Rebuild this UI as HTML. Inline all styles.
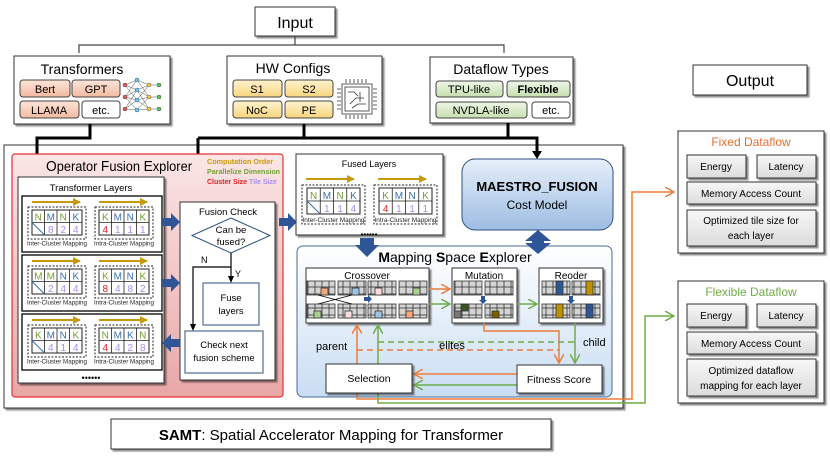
<!DOCTYPE html>
<html><head><meta charset="utf-8"><style>
html,body{margin:0;padding:0;background:#fff}
svg{display:block;font-family:"Liberation Sans",sans-serif}
</style></head><body>
<svg width="830" height="456" viewBox="0 0 830 456" xmlns="http://www.w3.org/2000/svg">
<defs>
<linearGradient id="red" x1="0" y1="0" x2="0" y2="1"><stop offset="0" stop-color="#fbe6e6"/><stop offset="1" stop-color="#e9a7a7"/></linearGradient>
<linearGradient id="blu" x1="0" y1="0" x2="0" y2="1"><stop offset="0" stop-color="#ffffff"/><stop offset="1" stop-color="#c9ddf3"/></linearGradient>
<linearGradient id="mae" x1="0" y1="0" x2="0" y2="1"><stop offset="0" stop-color="#e6eff9"/><stop offset="1" stop-color="#9dbde3"/></linearGradient>
<linearGradient id="gry" x1="0" y1="0" x2="0" y2="1"><stop offset="0" stop-color="#f7f7f7"/><stop offset="1" stop-color="#dcdcdc"/></linearGradient>
<linearGradient id="org" x1="0" y1="0" x2="0" y2="1"><stop offset="0" stop-color="#fce4d8"/><stop offset="1" stop-color="#f3b9a0"/></linearGradient>
<linearGradient id="yel" x1="0" y1="0" x2="0" y2="1"><stop offset="0" stop-color="#fff3cf"/><stop offset="1" stop-color="#f7d57e"/></linearGradient>
<linearGradient id="grn" x1="0" y1="0" x2="0" y2="1"><stop offset="0" stop-color="#eef6e6"/><stop offset="1" stop-color="#c5e0b0"/></linearGradient>
<pattern id="cell" width="7" height="7" patternUnits="userSpaceOnUse"><rect x="0" y="0" width="7" height="7" fill="#d4d4d4" stroke="#333" stroke-width="0.8"/></pattern>
<marker id="ag" markerWidth="8" markerHeight="8" refX="7" refY="4" orient="auto" markerUnits="userSpaceOnUse"><path d="M0,0 L8,4 L0,8 z" fill="#c69a0a"/></marker>
<marker id="ao" markerWidth="10" markerHeight="10" refX="9" refY="5" orient="auto" markerUnits="userSpaceOnUse"><path d="M0,0 L9,5 L0,10" fill="none" stroke="#ee7d3a" stroke-width="1.5"/></marker>
<marker id="agr" markerWidth="10" markerHeight="10" refX="9" refY="5" orient="auto" markerUnits="userSpaceOnUse"><path d="M0,0 L9,5 L0,10" fill="none" stroke="#70ad47" stroke-width="1.5"/></marker>
<filter id="sh" x="-5%" y="-5%" width="115%" height="120%"><feDropShadow dx="2" dy="2" stdDeviation="0.8" flood-color="#000" flood-opacity="0.45"/></filter>
</defs>

<rect x="255" y="7" width="80" height="29" fill="#fff" stroke="#333" filter="url(#sh)"/>
<text x="295" y="28" font-size="16" text-anchor="middle">Input</text>
<path d="M79,53 V45 H504 V53 M295,36 V45" fill="none" stroke="#444" stroke-width="1.2"/>

<rect x="14" y="56" width="156" height="68" fill="#fff" stroke="#333" filter="url(#sh)"/>
<text x="82" y="74" font-size="14" text-anchor="middle">Transformers</text>
<rect x="20" y="80" width="50" height="17" rx="3" fill="url(#org)" stroke="#444"/><text x="45" y="93" font-size="11" text-anchor="middle">Bert</text>
<rect x="72" y="80" width="48" height="17" rx="3" fill="url(#org)" stroke="#444"/><text x="96" y="93" font-size="11" text-anchor="middle">GPT</text>
<rect x="20" y="101" width="59" height="17" rx="3" fill="url(#org)" stroke="#444"/><text x="49" y="114" font-size="11" text-anchor="middle">LLAMA</text>
<rect x="82" y="101" width="38" height="17" rx="3" fill="#fff" stroke="#444"/><text x="101" y="114" font-size="11" text-anchor="middle">etc.</text>
<g stroke="#555" stroke-width="0.5" fill="none">
<path d="M125,85 L137,80 M125,85 L137,90 M125,85 L137,100 M125,97 L137,80 M125,97 L137,90 M125,97 L137,100 M125,97 L137,110 M125,109 L137,90 M125,109 L137,100 M125,109 L137,110 M137,80 L149,85 M137,80 L149,97 M137,90 L149,85 M137,90 L149,97 M137,90 L149,109 M137,100 L149,85 M137,100 L149,97 M137,100 L149,109 M137,110 L149,97 M137,110 L149,109 M149,85 H158 M149,97 H158 M149,109 H158"/>
</g>
<g stroke="#333" stroke-width="0.4">
<circle cx="125" cy="85" r="2" fill="#e55"/><circle cx="125" cy="97" r="2" fill="#e55"/><circle cx="125" cy="109" r="2" fill="#e55"/>
<circle cx="137" cy="80" r="2" fill="#6cf"/><circle cx="137" cy="90" r="2" fill="#6cf"/><circle cx="137" cy="100" r="2" fill="#6cf"/><circle cx="137" cy="110" r="2" fill="#6cf"/>
<circle cx="149" cy="85" r="2" fill="#fc4"/><circle cx="149" cy="97" r="2" fill="#fc4"/><circle cx="149" cy="109" r="2" fill="#fc4"/>
<circle cx="159" cy="85" r="2" fill="#5c5"/><circle cx="159" cy="97" r="2" fill="#5c5"/><circle cx="159" cy="109" r="2" fill="#5c5"/>
</g>

<rect x="227" y="56" width="155" height="68" fill="#fff" stroke="#333" filter="url(#sh)"/>
<text x="293" y="73" font-size="14" text-anchor="middle">HW Configs</text>
<rect x="233" y="80" width="49" height="17" rx="3" fill="url(#yel)" stroke="#444"/><text x="257" y="93" font-size="11" text-anchor="middle">S1</text>
<rect x="285" y="80" width="48" height="17" rx="3" fill="url(#yel)" stroke="#444"/><text x="309" y="93" font-size="11" text-anchor="middle">S2</text>
<rect x="233" y="101" width="49" height="17" rx="3" fill="url(#yel)" stroke="#444"/><text x="257" y="114" font-size="11" text-anchor="middle">NoC</text>
<rect x="285" y="101" width="48" height="17" rx="3" fill="url(#yel)" stroke="#444"/><text x="309" y="114" font-size="11" text-anchor="middle">PE</text>
<g fill="none" stroke="#333" stroke-width="0.8">
<rect x="342" y="84" width="30" height="30"/>
<rect x="345" y="87" width="24" height="24"/>
<path d="M346,83 V79 M350,83 V79 M354,83 V79 M358,83 V79 M362,83 V79 M366,83 V79 M346,115 V119 M350,115 V119 M354,115 V119 M358,115 V119 M362,115 V119 M366,115 V119 M341,89 H337 M341,93 H337 M341,97 H337 M341,101 H337 M341,105 H337 M341,109 H337 M373,89 H377 M373,93 H377 M373,97 H377 M373,101 H377 M373,105 H377 M373,109 H377"/>
<path d="M348,92 H354 L358,96 M350,104 L356,98 H364 M360,92 V102 M352,108 L358,104 H366"/>
</g>

<rect x="430" y="57" width="143" height="66" fill="#fff" stroke="#333" filter="url(#sh)"/>
<text x="501" y="74" font-size="14" text-anchor="middle">Dataflow Types</text>
<rect x="436" y="81" width="67" height="16" rx="3" fill="url(#grn)" stroke="#444"/><text x="469" y="93" font-size="11" text-anchor="middle">TPU-like</text>
<rect x="507" y="81" width="63" height="16" rx="3" fill="url(#grn)" stroke="#444"/><text x="538" y="93" font-size="11" font-weight="bold" text-anchor="middle">Flexible</text>
<rect x="436" y="102" width="91" height="16" rx="3" fill="url(#grn)" stroke="#444"/><text x="481" y="114" font-size="11" text-anchor="middle">NVDLA-like</text>
<rect x="532" y="102" width="38" height="16" rx="3" fill="#fff" stroke="#444"/><text x="551" y="114" font-size="11" text-anchor="middle">etc.</text>

<rect x="693" y="65" width="114" height="30" fill="#fff" stroke="#333" filter="url(#sh)"/>
<text x="750" y="86" font-size="16" text-anchor="middle">Output</text>

<rect x="4" y="145" width="619" height="263" fill="#fff" stroke="#333" filter="url(#sh)"/>

<g fill="none" stroke="#000" stroke-width="3">
<path d="M90,124 V138 H37 V170"/>
<path d="M304,124 V138 M508,123 V138 M198,138 H537 V152 M198,138 V195"/>
</g>
<path d="M32,168 L42,168 L37,177 z M193,193 L203,193 L198,202 z M532,151 L542,151 L537,159 z" fill="#000"/>

<rect x="12" y="154" width="271" height="243" rx="3" fill="url(#red)" stroke="#e03535" stroke-width="1.2"/>
<text x="46" y="171" font-size="14" textLength="146" lengthAdjust="spacingAndGlyphs"><tspan font-size="15">O</tspan>perator <tspan font-size="15">F</tspan>usion <tspan font-size="15">E</tspan>xplorer</text>
<g font-size="7" font-weight="bold">
<text x="207" y="164" fill="#c69a0a" textLength="66" lengthAdjust="spacingAndGlyphs">Computation Order</text>
<text x="207" y="174" fill="#70a030" textLength="73" lengthAdjust="spacingAndGlyphs">Parallelize Dimension</text>
<text x="207" y="184" fill="#e02020">Cluster Size <tspan fill="#a98cf5">Tile Size</tspan></text>
</g>

<rect x="18" y="177" width="146" height="206" fill="#fff" stroke="#333" filter="url(#sh)"/>
<text x="91" y="191" font-size="9.5" text-anchor="middle">Transformer Layers</text>
<rect x="22" y="196" width="140" height="56" fill="#fff" stroke="#000" stroke-width="1.3"/>
<rect x="22" y="255" width="140" height="56" fill="#fff" stroke="#000" stroke-width="1.3"/>
<rect x="22" y="314" width="140" height="56" fill="#fff" stroke="#000" stroke-width="1.3"/>
<text x="91" y="381" font-size="9" text-anchor="middle">••••••</text>

<g font-size="10" text-anchor="middle">
<g transform="translate(28,207)">
<path d="M4,-5 H52" stroke="#c69a0a" stroke-width="2" marker-end="url(#ag)"/>
<rect x="0" y="0" width="58" height="32" fill="none" stroke="#222" stroke-dasharray="2,1.5"/>
<rect x="4" y="3" width="50" height="25" fill="#fff" stroke="#222"/>
<path d="M16.5,3 V28 M29,3 V28 M41.5,3 V28 M4,15.5 H54" stroke="#222" fill="none" stroke-width="0.8"/>
<path d="M4,15.5 L16.5,28" stroke="#3a6fb0"/>
<text x="10.3" y="13.5" fill="#70a030">N</text><text x="22.8" y="13.5" fill="#3a6fb0">M</text><text x="35.3" y="13.5" fill="#70a030">N</text><text x="47.8" y="13.5" fill="#3a6fb0">K</text>
<text x="22.8" y="26" fill="#a98cf5">8</text><text x="35.3" y="26" fill="#a98cf5">2</text><text x="47.8" y="26" fill="#a98cf5">4</text>
<text x="29" y="38.5" font-size="6" fill="#222" textLength="60" lengthAdjust="spacingAndGlyphs">Inter-Cluster Mapping</text>
</g>
<g transform="translate(95,207)">
<path d="M4,-5 H52" stroke="#c69a0a" stroke-width="2" marker-end="url(#ag)"/>
<rect x="0" y="0" width="58" height="32" fill="none" stroke="#222" stroke-dasharray="2,1.5"/>
<rect x="4" y="3" width="50" height="25" fill="#fff" stroke="#222"/>
<path d="M16.5,3 V28 M29,3 V28 M41.5,3 V28 M4,15.5 H54" stroke="#222" fill="none" stroke-width="0.8"/>
<text x="10.3" y="13.5" fill="#70a030">K</text><text x="22.8" y="13.5" fill="#3a6fb0">M</text><text x="35.3" y="13.5" fill="#3a6fb0">N</text><text x="47.8" y="13.5" fill="#70a030">K</text>
<text x="10.3" y="26" fill="#e02020">4</text><text x="22.8" y="26" fill="#a98cf5">1</text><text x="35.3" y="26" fill="#a98cf5">1</text><text x="47.8" y="26" fill="#a98cf5">1</text>
<text x="29" y="38.5" font-size="6" fill="#222" textLength="60" lengthAdjust="spacingAndGlyphs">Intra-Cluster Mapping</text>
</g>
<g transform="translate(28,266)">
<path d="M4,-5 H52" stroke="#c69a0a" stroke-width="2" marker-end="url(#ag)"/>
<rect x="0" y="0" width="58" height="32" fill="none" stroke="#222" stroke-dasharray="2,1.5"/>
<rect x="4" y="3" width="50" height="25" fill="#fff" stroke="#222"/>
<path d="M16.5,3 V28 M29,3 V28 M41.5,3 V28 M4,15.5 H54" stroke="#222" fill="none" stroke-width="0.8"/>
<path d="M4,15.5 L16.5,28" stroke="#3a6fb0"/>
<text x="10.3" y="13.5" fill="#70a030">M</text><text x="22.8" y="13.5" fill="#70a030">M</text><text x="35.3" y="13.5" fill="#3a6fb0">N</text><text x="47.8" y="13.5" fill="#3a6fb0">K</text>
<text x="22.8" y="26" fill="#a98cf5">2</text><text x="35.3" y="26" fill="#a98cf5">4</text><text x="47.8" y="26" fill="#a98cf5">4</text>
<text x="29" y="38.5" font-size="6" fill="#222" textLength="60" lengthAdjust="spacingAndGlyphs">Inter-Cluster Mapping</text>
</g>
<g transform="translate(95,266)">
<path d="M4,-5 H52" stroke="#c69a0a" stroke-width="2" marker-end="url(#ag)"/>
<rect x="0" y="0" width="58" height="32" fill="none" stroke="#222" stroke-dasharray="2,1.5"/>
<rect x="4" y="3" width="50" height="25" fill="#fff" stroke="#222"/>
<path d="M16.5,3 V28 M29,3 V28 M41.5,3 V28 M4,15.5 H54" stroke="#222" fill="none" stroke-width="0.8"/>
<text x="10.3" y="13.5" fill="#70a030">K</text><text x="22.8" y="13.5" fill="#3a6fb0">M</text><text x="35.3" y="13.5" fill="#3a6fb0">N</text><text x="47.8" y="13.5" fill="#70a030">K</text>
<text x="10.3" y="26" fill="#e02020">8</text><text x="22.8" y="26" fill="#a98cf5">4</text><text x="35.3" y="26" fill="#a98cf5">8</text><text x="47.8" y="26" fill="#a98cf5">2</text>
<text x="29" y="38.5" font-size="6" fill="#222" textLength="60" lengthAdjust="spacingAndGlyphs">Intra-Cluster Mapping</text>
</g>
<g transform="translate(28,325)">
<path d="M4,-5 H52" stroke="#c69a0a" stroke-width="2" marker-end="url(#ag)"/>
<rect x="0" y="0" width="58" height="32" fill="none" stroke="#222" stroke-dasharray="2,1.5"/>
<rect x="4" y="3" width="50" height="25" fill="#fff" stroke="#222"/>
<path d="M16.5,3 V28 M29,3 V28 M41.5,3 V28 M4,15.5 H54" stroke="#222" fill="none" stroke-width="0.8"/>
<path d="M4,15.5 L16.5,28" stroke="#3a6fb0"/>
<text x="10.3" y="13.5" fill="#70a030">K</text><text x="22.8" y="13.5" fill="#3a6fb0">M</text><text x="35.3" y="13.5" fill="#3a6fb0">N</text><text x="47.8" y="13.5" fill="#70a030">K</text>
<text x="22.8" y="26" fill="#a98cf5">4</text><text x="35.3" y="26" fill="#a98cf5">1</text><text x="47.8" y="26" fill="#a98cf5">4</text>
<text x="29" y="38.5" font-size="6" fill="#222" textLength="60" lengthAdjust="spacingAndGlyphs">Inter-Cluster Mapping</text>
</g>
<g transform="translate(95,325)">
<path d="M4,-5 H52" stroke="#c69a0a" stroke-width="2" marker-end="url(#ag)"/>
<rect x="0" y="0" width="58" height="32" fill="none" stroke="#222" stroke-dasharray="2,1.5"/>
<rect x="4" y="3" width="50" height="25" fill="#fff" stroke="#222"/>
<path d="M16.5,3 V28 M29,3 V28 M41.5,3 V28 M4,15.5 H54" stroke="#222" fill="none" stroke-width="0.8"/>
<text x="10.3" y="13.5" fill="#70a030">N</text><text x="22.8" y="13.5" fill="#3a6fb0">M</text><text x="35.3" y="13.5" fill="#3a6fb0">K</text><text x="47.8" y="13.5" fill="#70a030">N</text>
<text x="10.3" y="26" fill="#e02020">4</text><text x="22.8" y="26" fill="#a98cf5">4</text><text x="35.3" y="26" fill="#a98cf5">2</text><text x="47.8" y="26" fill="#a98cf5">8</text>
<text x="29" y="38.5" font-size="6" fill="#222" textLength="60" lengthAdjust="spacingAndGlyphs">Intra-Cluster Mapping</text>
</g>
</g>

<rect x="180" y="202" width="95" height="178" fill="#fff" stroke="#333" filter="url(#sh)"/>
<text x="228" y="215" font-size="9.5" text-anchor="middle">Fusion Check</text>
<path d="M231,218 L270,235.5 L231,253 L192,235.5 z" fill="#fff" stroke="#2f4f7f"/>
<text x="231" y="233" font-size="9.5" text-anchor="middle">Can be</text>
<text x="231" y="245" font-size="9.5" text-anchor="middle">fused?</text>
<path d="M231,253 V278 M231,267 H193 V325" fill="none" stroke="#000" stroke-width="1.2"/>
<path d="M228,276 L234,276 L231,283 z M190,324 L196,324 L193,331 z" fill="#000"/>
<text x="201" y="263" font-size="9">N</text>
<text x="235" y="277" font-size="9">Y</text>
<rect x="203" y="283" width="56" height="42" fill="#fff" stroke="#2f4f7f"/>
<text x="231" y="301" font-size="9.5" text-anchor="middle">Fuse</text>
<text x="231" y="314" font-size="9.5" text-anchor="middle">layers</text>
<rect x="185" y="331" width="78" height="42" fill="#fff" stroke="#2f4f7f"/>
<text x="224" y="348" font-size="9.5" text-anchor="middle">Check next</text>
<text x="224" y="361" font-size="9.5" text-anchor="middle">fusion scheme</text>

<g fill="#2f5597">
<path d="M162,218 H171 V213 L180,222 L171,231 V226 H162 z"/>
<path d="M162,279 H171 V274 L180,283 L171,292 V287 H162 z"/>
<path d="M180,339 H171 V334 L162,343 L171,352 V347 H180 z"/>
<path d="M279,218 H288 V213 L297,222 L288,231 V226 H279 z"/>
</g>

<rect x="296" y="154" width="147" height="81" fill="#fff" stroke="#333" filter="url(#sh)"/>
<text x="369" y="167" font-size="9" text-anchor="middle">Fused Layers</text>
<text x="369" y="237" font-size="8" text-anchor="middle">••••••</text>
<g font-size="10" text-anchor="middle">
<g transform="translate(302,185)">
<path d="M4,-6 H52" stroke="#c69a0a" stroke-width="2" marker-end="url(#ag)"/>
<rect x="0" y="0" width="63" height="39" fill="none" stroke="#222" stroke-dasharray="2,1.5"/>
<rect x="5" y="3" width="53" height="26" fill="#fff" stroke="#222"/>
<path d="M18.25,3 V29 M31.5,3 V29 M44.75,3 V29 M5,16 H58" stroke="#222" fill="none" stroke-width="0.8"/>
<path d="M5,16 L18.25,29" stroke="#3a6fb0"/>
<text x="11.6" y="14" fill="#70a030">N</text><text x="24.9" y="14" fill="#3a6fb0">M</text><text x="38.1" y="14" fill="#70a030">N</text><text x="51.4" y="14" fill="#3a6fb0">K</text>
<text x="24.9" y="27" fill="#a98cf5">1</text><text x="38.1" y="27" fill="#a98cf5">1</text><text x="51.4" y="27" fill="#a98cf5">4</text>
<text x="31.5" y="37" font-size="6" fill="#222" textLength="62" lengthAdjust="spacingAndGlyphs">Inter-Cluster Mapping</text>
</g>
<g transform="translate(374,185)">
<path d="M4,-6 H52" stroke="#c69a0a" stroke-width="2" marker-end="url(#ag)"/>
<rect x="0" y="0" width="63" height="39" fill="none" stroke="#222" stroke-dasharray="2,1.5"/>
<rect x="5" y="3" width="53" height="26" fill="#fff" stroke="#222"/>
<path d="M18.25,3 V29 M31.5,3 V29 M44.75,3 V29 M5,16 H58" stroke="#222" fill="none" stroke-width="0.8"/>
<text x="11.6" y="14" fill="#70a030">K</text><text x="24.9" y="14" fill="#3a6fb0">M</text><text x="38.1" y="14" fill="#3a6fb0">N</text><text x="51.4" y="14" fill="#70a030">K</text>
<text x="11.6" y="27" fill="#e02020">4</text><text x="24.9" y="27" fill="#a98cf5">1</text><text x="38.1" y="27" fill="#a98cf5">1</text><text x="51.4" y="27" fill="#a98cf5">1</text>
<text x="31.5" y="37" font-size="6" fill="#222" textLength="62" lengthAdjust="spacingAndGlyphs">Intra-Cluster Mapping</text>
</g>
</g>

<rect x="462" y="159" width="151" height="71" rx="13" fill="url(#mae)" stroke="#2f4f7f"/>
<text x="537" y="191" font-size="13" font-weight="bold" text-anchor="middle">MAESTRO_FUSION</text>
<text x="537" y="209" font-size="12" text-anchor="middle">Cost Model</text>

<rect x="297" y="246" width="315" height="151" rx="6" fill="url(#blu)" stroke="#4a6a95"/>
<text x="455" y="262" font-size="14" text-anchor="middle"><tspan font-weight="bold">M</tspan>apping <tspan font-weight="bold">S</tspan>pace <tspan font-weight="bold">E</tspan>xplorer</text>

<g fill="#2f5597">
<polygon points="360,238 374,238 374,245 379,245 367,257 355,245 360,245"/>
<polygon points="538,230 551,241 544,241 544,243 551,243 538,254 525,243 532,243 532,241 525,241"/>
</g>

<rect x="306" y="268" width="123" height="55" fill="#fff" stroke="#333" filter="url(#sh)"/>
<text x="367" y="279" font-size="10" text-anchor="middle">Crossover</text>
<rect x="452" y="268" width="65" height="55" fill="#fff" stroke="#333" filter="url(#sh)"/>
<text x="484" y="279" font-size="10" text-anchor="middle">Mutation</text>
<rect x="539" y="268" width="64" height="55" fill="#fff" stroke="#333" filter="url(#sh)"/>
<text x="571" y="279" font-size="10" text-anchor="middle">Reoder</text>

<g stroke="#333" stroke-width="0.8">
<rect x="307" y="281" width="28" height="14" fill="url(#cell)"/>
<rect x="338" y="281" width="28" height="14" fill="url(#cell)"/>
<rect x="368" y="281" width="28" height="14" fill="url(#cell)"/>
<rect x="399" y="281" width="28" height="14" fill="url(#cell)"/>
<rect x="321" y="288" width="7" height="7" fill="#f4a77a"/>
<rect x="352" y="288" width="7" height="7" fill="#9dc3e6"/>
<rect x="375" y="288" width="7" height="7" fill="#fbdcdc"/>
<rect x="413" y="288" width="7" height="7" fill="#a9d18e"/>
<rect x="307" y="304" width="28" height="14" fill="url(#cell)"/>
<rect x="338" y="304" width="28" height="14" fill="url(#cell)"/>
<rect x="368" y="304" width="28" height="14" fill="url(#cell)"/>
<rect x="399" y="304" width="28" height="14" fill="url(#cell)"/>
<rect x="314" y="311" width="7" height="7" fill="#a9d18e"/>
<rect x="345" y="311" width="7" height="7" fill="#fbdcdc"/>
<rect x="375" y="311" width="7" height="7" fill="#9dc3e6"/>
<rect x="406" y="311" width="7" height="7" fill="#f4a77a"/>
<rect x="454" y="281" width="28" height="14" fill="url(#cell)"/>
<rect x="485" y="281" width="28" height="14" fill="url(#cell)"/>
<rect x="454" y="304" width="28" height="14" fill="url(#cell)"/>
<rect x="485" y="304" width="28" height="14" fill="url(#cell)"/>
<rect x="454" y="311" width="7" height="7" fill="#777"/>
<rect x="461" y="304" width="7" height="7" fill="#385723"/>
<rect x="492" y="311" width="7" height="7" fill="#7f6000"/>
<rect x="542" y="281" width="28" height="14" fill="url(#cell)"/>
<rect x="572" y="281" width="28" height="14" fill="url(#cell)"/>
<rect x="542" y="304" width="28" height="14" fill="url(#cell)"/>
<rect x="572" y="304" width="28" height="14" fill="url(#cell)"/>
<rect x="556" y="281" width="7" height="14" fill="#2f5597"/>
<rect x="586" y="281" width="7" height="14" fill="#bf9000"/>
<rect x="556" y="304" width="7" height="14" fill="#bf9000"/>
<rect x="586" y="304" width="7" height="14" fill="#2f5597"/>
</g>
<path d="M318,304 L352,295 M318,295 L352,304" stroke="#000" stroke-width="0.8"/>
<g fill="#2f5597">
<path d="M364,297 H368 V295 L372,299 L368,303 V301 H364 z"/>
<path d="M481,296 V300 H479 L483,304 L487,300 H485 V296 z"/>
<path d="M569,296 V300 H567 L571,304 L575,300 H573 V296 z"/>
</g>

<g fill="none" stroke-width="1.5">
<path d="M429,289 H450" stroke="#ee7d3a" marker-end="url(#ao)"/>
<path d="M429,304 H450" stroke="#70ad47" marker-end="url(#agr)"/>
<path d="M517,304 H537" stroke="#70ad47" marker-end="url(#agr)"/>
<path d="M484,323 V331 H559 V363" stroke="#ee7d3a" marker-end="url(#ao)"/>
<path d="M575,323 V363" stroke="#70ad47" marker-end="url(#agr)"/>
<path d="M517,374 H414" stroke="#ee7d3a" marker-end="url(#ao)"/>
<path d="M517,385 H414" stroke="#70ad47" marker-end="url(#agr)"/>
<path d="M357,364 V325" stroke="#ee7d3a" marker-end="url(#ao)"/>
<path d="M378,364 V325" stroke="#70ad47" marker-end="url(#agr)"/>
<path d="M378,342 H575" stroke="#70ad47" stroke-dasharray="6,4"/>
<path d="M357,350 H559" stroke="#ee7d3a" stroke-dasharray="6,4"/>
<path d="M357,393 V399 H632 V192 H674" stroke="#ee7d3a" marker-end="url(#ao)"/>
<path d="M378,393 V403 H645 V316 H674" stroke="#70ad47" marker-end="url(#agr)"/>
</g>
<text x="316" y="350" font-size="11">parent</text>
<text x="452" y="349" font-size="11" text-anchor="middle">elites</text>
<text x="583" y="346" font-size="11">child</text>

<rect x="326" y="364" width="86" height="29" fill="#fff" stroke="#333" filter="url(#sh)"/>
<text x="369" y="382" font-size="10.5" text-anchor="middle">Selection</text>
<rect x="517" y="365" width="85" height="28" fill="#fff" stroke="#333" filter="url(#sh)"/>
<text x="559" y="383" font-size="10.5" text-anchor="middle">Fitness Score</text>

<rect x="678" y="131" width="146" height="122" fill="#fff" stroke="#333" filter="url(#sh)"/>
<text x="751" y="146" font-size="12" fill="#e07030" text-anchor="middle">Fixed Dataflow</text>
<rect x="687" y="155" width="59" height="23" fill="url(#gry)" stroke="#333" filter="url(#sh)"/><text x="716" y="170" font-size="10" text-anchor="middle">Energy</text>
<rect x="757" y="155" width="59" height="23" fill="url(#gry)" stroke="#333" filter="url(#sh)"/><text x="786" y="170" font-size="10" text-anchor="middle">Latency</text>
<rect x="687" y="182" width="129" height="22" fill="url(#gry)" stroke="#333" filter="url(#sh)"/><text x="751" y="197" font-size="10" text-anchor="middle">Memory Access Count</text>
<rect x="687" y="210" width="129" height="36" fill="url(#gry)" stroke="#333" filter="url(#sh)"/><text x="751" y="224" font-size="10" text-anchor="middle">Optimized tile size for</text><text x="751" y="239" font-size="10" text-anchor="middle">each layer</text>

<rect x="678" y="281" width="146" height="122" fill="#fff" stroke="#333" filter="url(#sh)"/>
<text x="751" y="296" font-size="12" fill="#70ad47" text-anchor="middle">Flexible Dataflow</text>
<rect x="687" y="304" width="59" height="23" fill="url(#gry)" stroke="#333" filter="url(#sh)"/><text x="716" y="319" font-size="10" text-anchor="middle">Energy</text>
<rect x="757" y="304" width="59" height="23" fill="url(#gry)" stroke="#333" filter="url(#sh)"/><text x="786" y="319" font-size="10" text-anchor="middle">Latency</text>
<rect x="687" y="332" width="129" height="22" fill="url(#gry)" stroke="#333" filter="url(#sh)"/><text x="751" y="347" font-size="10" text-anchor="middle">Memory Access Count</text>
<rect x="687" y="359" width="129" height="37" fill="url(#gry)" stroke="#333" filter="url(#sh)"/><text x="751" y="374" font-size="10" text-anchor="middle">Optimized dataflow</text><text x="751" y="389" font-size="10" text-anchor="middle">mapping for each layer</text>

<rect x="111" y="419" width="440" height="30" fill="#fff" stroke="#333" filter="url(#sh)"/>
<text x="331" y="440" font-size="15" text-anchor="middle"><tspan font-weight="bold">SAMT</tspan>: Spatial Accelerator Mapping for Transformer</text>
</svg>
</body></html>
